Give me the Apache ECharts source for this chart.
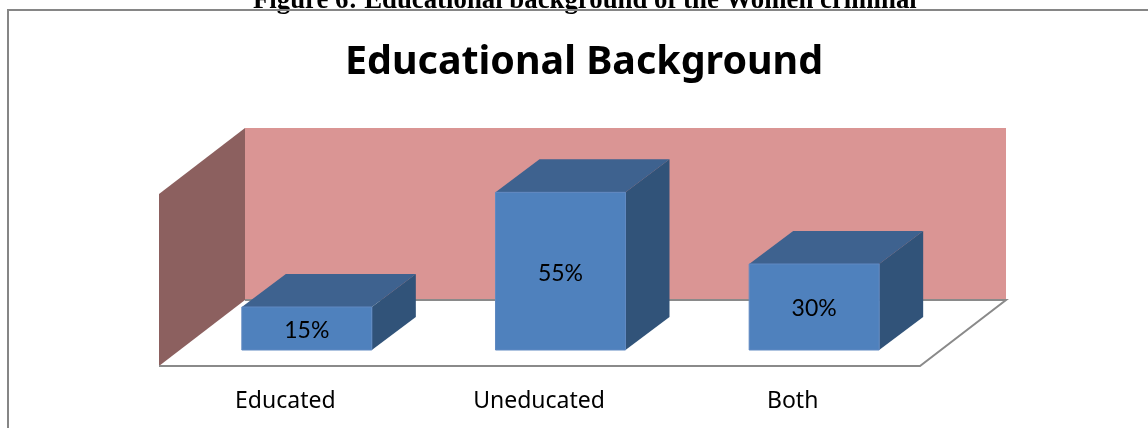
<!DOCTYPE html>
<html>
<head>
<meta charset="utf-8">
<style>html,body{margin:0;padding:0;background:#fff}#main{width:1148px;height:428px}</style>
<script src="https://cdn.jsdelivr.net/npm/echarts@6/dist/echarts.min.js"></script>
</head>
<body>
<div id="main"></div>
<script>
var categories = ['Educated', 'Uneducated', 'Both'];
var percentValues = [15, 55, 30];
var tickLabels = ['Educated', 'Uneducated', 'Both'];

var myChart = echarts.init(document.getElementById('main'));

// depth of a bar and of the whole floor, in pixels
var barDepth = [44, 33];
var floorDepth = [86, 66];

// wall, side wall and floor are worked out from the grid rectangle
function renderRoom(params, api) {
    var r = params.coordSys;
    var x0 = r.x - 21, x1 = x0 + r.width;
    var base = r.y + r.height + 16;
    var bx = x0 + floorDepth[0], by = base - floorDepth[1];
    return {
        type: 'group',
        children: [
            {type: 'rect', shape: {x: bx, y: by - r.height, width: r.width, height: r.height},
             style: {fill: '#da9594'}},
            {type: 'polygon', shape: {points: [[x0, base], [x0, base - r.height], [bx, by - r.height], [bx, by]]},
             style: {fill: '#8c605f'}},
            {type: 'polyline', shape: {points: [[bx, by], [bx + r.width, by], [x1, base], [x0, base]]},
             style: {fill: 'none', stroke: '#8a8a8a', lineWidth: 2}}
        ]
    };
}

function renderBar(params, api) {
    var top = api.coord([api.value(0), api.value(1)]);
    var bottom = api.coord([api.value(0), 0]);
    var w = api.size([1, 0])[0] * 0.5125;
    var l = top[0] - w / 2, r = top[0] + w / 2;
    var dx = barDepth[0], dy = barDepth[1];
    return {
        type: 'group',
        children: [
            {type: 'polygon', shape: {points: [[l, top[1]], [l + dx, top[1] - dy], [r + dx, top[1] - dy], [r, top[1]]]},
             style: {fill: '#3e628f'}},
            {type: 'polygon', shape: {points: [[r, top[1]], [r + dx, top[1] - dy], [r + dx, bottom[1] - dy], [r, bottom[1]]]},
             style: {fill: '#315379'}},
            {type: 'rect', shape: {x: l, y: top[1], width: w, height: bottom[1] - top[1]},
             style: {fill: '#4f81bd', stroke: '#6089c2', lineWidth: 1}},
            {type: 'text', x: top[0], y: (top[1] + bottom[1]) / 2 + 2,
             style: {text: api.value(1) + '%', fill: '#000', font: '23px Lato, sans-serif', align: 'center', verticalAlign: 'middle'}}
        ]
    };
}

var option = {
    animation: false,
    title: [
        {
            text: 'Figure 6: Educational background of the Women criminal',
            left: 248, top: -17,
            textStyle: {fontFamily: 'Liberation Serif', fontWeight: 'bold', fontSize: 26.8, color: '#000'}
        },
        {
            text: 'Educational Background',
            left: 340, top: 38,
            textStyle: {fontFamily: 'Noto Sans', fontWeight: 'bold', fontSize: 39.4, color: '#000'}
        }
    ],
    graphic: [
        {type: 'polyline', z: 10, shape: {points: [[8, 428], [8, 10], [1148, 10]]},
         style: {fill: 'none', stroke: '#868686', lineWidth: 2}}
    ],
    grid: {left: 180, top: 178, width: 761, height: 172},
    xAxis: {
        type: 'category',
        data: tickLabels,
        axisLine: {show: false},
        axisTick: {show: false},
        axisLabel: {
            margin: 40, fontSize: 23, fontFamily: 'Noto Sans', color: '#000', interval: 0,
            padding: [0, 43, 0, 0]
        }
    },
    yAxis: {type: 'value', min: 0, max: 60, interval: 10, show: false},
    series: [
        {type: 'custom', name: 'room', silent: true, z: 1, renderItem: renderRoom, data: [0], clip: false,
         encode: {x: [], y: []}},
        {type: 'custom', name: 'Educational Background', z: 2, renderItem: renderBar, clip: false,
         data: categories.map(function (c, i) { return [i, percentValues[i]]; }),
         encode: {x: 0, y: 1}}
    ]
};

// 为echarts对象加载数据
myChart.setOption(option);
</script>
</body>
</html>
